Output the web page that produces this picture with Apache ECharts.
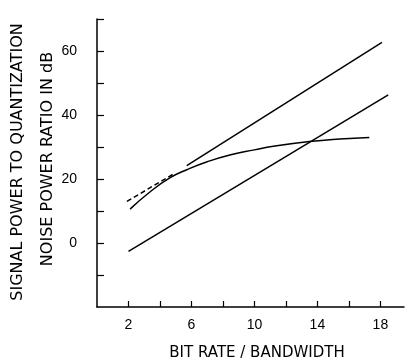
<!DOCTYPE html>
<html>
<head>
<meta charset="utf-8">
<script src="https://cdn.jsdelivr.net/npm/echarts@6/dist/echarts.min.js"></script>
<style>
  html, body { margin: 0; padding: 0; background: #fff; }
  #chart { width: 406px; height: 362px; }
</style>
</head>
<body>
<div id="chart"></div>
<script>
// values
const upperLine = [[5.7, 24.2], [18.1, 62.7]]
const lowerLine = [[2.0, -2.6], [18.5, 46.3]]
const curve = [
  [2.1, 10.6], [3.4, 16.1], [4.65, 20.4], [5.7, 22.9], [7.0, 25.4],
  [8.5, 27.6], [10.0, 29.1], [11.2, 30.2], [13.5, 31.7], [15.4, 32.5], [17.3, 33.0]
]
const dashed = [[1.9, 13.0], [4.8, 21.4]]
const xTicks = [2, 4, 6, 8, 10, 12, 14, 16, 18]
const xLabels = [2, 6, 10, 14, 18]
const yTicks = [-10, 0, 10, 20, 30, 40, 50, 60, 70]
const yLabels = [0, 20, 40, 60]

const chart = echarts.init(document.getElementById('chart'))
const tickFont = 'Liberation Sans'

const lineSeries = (data, type) => ({
  type: 'line',
  data: data,
  symbol: 'none',
  smooth: data.length > 2 ? 0.5 : false,
  lineStyle: { color: '#000', width: 1.5, type: type || 'solid' },
  silent: true,
  animation: false
})

chart.setOption({
  animation: false,
  grid: { left: 97, right: 2, top: 19, bottom: 55 },
  xAxis: {
    type: 'value',
    min: 0,
    max: 19.5,
    splitLine: { show: false },
    axisLine: { onZero: false, lineStyle: { color: '#000', width: 1.5 } },
    axisTick: { inside: true, length: 6, customValues: xTicks, lineStyle: { color: '#000', width: 1.2 } },
    axisLabel: { customValues: xLabels, color: '#000', fontFamily: tickFont, fontSize: 14, margin: 11 }
  },
  yAxis: {
    type: 'value',
    min: -20,
    max: 70,
    splitLine: { show: false },
    axisLine: { show: true, onZero: false, lineStyle: { color: '#000', width: 1.5 } },
    axisTick: { show: true, inside: true, length: 7, customValues: yTicks, lineStyle: { color: '#000', width: 1.2 } },
    axisLabel: { customValues: yLabels, color: '#000', fontFamily: tickFont, fontSize: 14, margin: 20 }
  },
  graphic: [
    {
      type: 'text', x: 18, y: 162, rotation: Math.PI / 2,
      style: { text: 'SIGNAL POWER TO QUANTIZATION', font: '16px "DejaVu Sans"', fill: '#000', align: 'center', verticalAlign: 'middle' }
    },
    {
      type: 'text', x: 48, y: 159, rotation: Math.PI / 2,
      style: { text: 'NOISE POWER RATIO IN dB', font: '16px "DejaVu Sans"', fill: '#000', align: 'center', verticalAlign: 'middle' }
    },
    {
      type: 'text', x: 257, y: 353,
      style: { text: 'BIT RATE / BANDWIDTH', font: '15px "DejaVu Sans"', fill: '#000', align: 'center', verticalAlign: 'middle' }
    }
  ],
  series: [
    lineSeries(upperLine),
    lineSeries(lowerLine),
    lineSeries(curve),
    lineSeries(dashed, [5, 3])
  ]
})
</script>
</body>
</html>
